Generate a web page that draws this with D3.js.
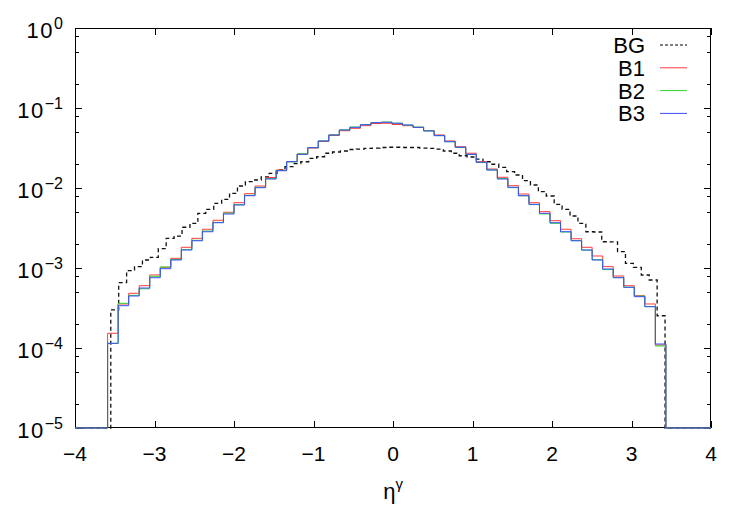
<!DOCTYPE html>
<html>
<head>
<meta charset="utf-8">
<script src="https://cdn.jsdelivr.net/npm/d3@7/dist/d3.min.js"></script>
<style>
  html, body { margin: 0; padding: 0; background: #fff; }
  text { font-family: "Liberation Sans", Arial, Helvetica, sans-serif; fill: #000; }
</style>
</head>
<body>
<svg id="chart" width="750" height="525"></svg>
<script>
// ---------------- data ----------------
const seriesNames = ["BG", "B1", "B2", "B3"];
const seriesColors = ["#000000", "#ff3b3b", "#2ed62e", "#3a4bff"];

// signal histograms (B1, B2, B3): 53 bins starting at eta = -3.59, width 0.1325
const bStart = -3.59;
const bWidth = 0.1325;
const b1 = [1.528e-4, 3.55e-4, 4.83e-4, 6.01e-4, 8.18e-4, 1.02e-3, 1.321e-3, 1.815e-3, 2.35e-3, 3.05e-3,
            3.95e-3, 4.97e-3, 6.55e-3, 8.49e-3, 1.059e-2, 1.352e-2, 1.679e-2, 2.14e-2, 2.64e-2, 3.16e-2,
            3.81e-2, 4.53e-2, 5.20e-2, 5.57e-2, 6.01e-2, 6.40e-2, 6.44e-2, 6.22e-2, 6.01e-2, 5.71e-2,
            5.23e-2, 4.60e-2, 3.87e-2, 3.28e-2, 2.72e-2, 2.13e-2, 1.728e-2, 1.361e-2, 1.069e-2, 8.41e-3,
            6.55e-3, 5.06e-3, 3.90e-3, 3.05e-3, 2.32e-3, 1.815e-3, 1.413e-3, 1.04e-3, 7.94e-4, 6.01e-4,
            4.51e-4, 3.55e-4, 1.09e-4];
const b2 = [1.14e-4, 3.62e-4, 4.55e-4, 5.5e-4, 7.87e-4, 1.03e-3, 1.28e-3, 1.70e-3, 2.22e-3, 2.90e-3,
            3.72e-3, 4.85e-3, 6.2e-3, 8.1e-3, 1.02e-2, 1.31e-2, 1.66e-2, 2.12e-2, 2.68e-2, 3.2e-2,
            3.88e-2, 4.62e-2, 5.33e-2, 5.78e-2, 6.2e-2, 6.58e-2, 6.68e-2, 6.46e-2, 6.12e-2, 5.78e-2,
            5.18e-2, 4.52e-2, 3.8e-2, 3.22e-2, 2.62e-2, 2.08e-2, 1.68e-2, 1.31e-2, 1.01e-2, 8.0e-3,
            6.2e-3, 4.75e-3, 3.62e-3, 2.82e-3, 2.2e-3, 1.67e-3, 1.27e-3, 9.55e-4, 7.6e-4, 5.75e-4,
            4.45e-4, 3.3e-4, 1.06e-4];
const b3 = [1.145e-4, 3.38e-4, 4.47e-4, 5.62e-4, 7.56e-4, 9.80e-4, 1.259e-3, 1.679e-3, 2.19e-3, 2.84e-3,
            3.68e-3, 4.73e-3, 6.13e-3, 8.01e-3, 1.009e-2, 1.296e-2, 1.644e-2, 2.13e-2, 2.64e-2, 3.19e-2,
            3.87e-2, 4.60e-2, 5.31e-2, 5.74e-2, 6.18e-2, 6.55e-2, 6.63e-2, 6.44e-2, 6.13e-2, 5.74e-2,
            5.16e-2, 4.51e-2, 3.79e-2, 3.23e-2, 2.64e-2, 2.10e-2, 1.679e-2, 1.296e-2, 1.021e-2, 8.01e-3,
            6.25e-3, 4.83e-3, 3.68e-3, 2.84e-3, 2.19e-3, 1.679e-3, 1.259e-3, 9.72e-4, 7.56e-4, 5.74e-4,
            4.38e-4, 3.28e-4, 1.122e-4];

// background histogram: 70 bins starting at eta = -3.55, width 0.0996
const bgStart = -3.55;
const bgWidth = 0.0996;
const bg = [2.99e-4, 6.55e-4, 9.25e-4, 1.038e-3, 1.259e-3, 1.361e-3, 1.742e-3, 2.35e-3, 2.51e-3, 3.23e-3,
            3.62e-3, 4.83e-3, 5.42e-3, 6.44e-3, 7.22e-3, 8.59e-3, 1.059e-2, 1.199e-2, 1.259e-2, 1.372e-2,
            1.527e-2, 1.679e-2, 1.846e-2, 2.02e-2, 2.13e-2, 2.34e-2, 2.46e-2, 2.72e-2, 2.82e-2, 2.90e-2,
            3.03e-2, 3.07e-2, 3.13e-2, 3.16e-2, 3.21e-2, 3.23e-2, 3.23e-2, 3.21e-2, 3.21e-2, 3.16e-2,
            3.13e-2, 3.07e-2, 2.90e-2, 2.72e-2, 2.53e-2, 2.44e-2, 2.30e-2, 2.13e-2, 1.98e-2, 1.815e-2,
            1.60e-2, 1.454e-2, 1.234e-2, 1.09e-2, 8.99e-3, 7.94e-3, 6.25e-3, 5.42e-3, 4.47e-3, 3.62e-3,
            2.84e-3, 2.82e-3, 2.13e-3, 2.12e-3, 1.60e-3, 1.145e-3, 1.02e-3, 8.18e-4, 7.08e-4, 2.53e-4];

const xTicks = [-4, -3, -2, -1, 0, 1, 2, 3, 4];
const yExponents = [0, -1, -2, -3, -4, -5];
const yMinorFactors = [0.8, 0.5, 0.2];

// ---------------- layout ----------------
const L = 75, R = 711, T = 28, B = 428;
const svg = d3.select("#chart");
const x = d3.scaleLinear().domain([-4, 4]).range([L, R]);
const y = d3.scaleLog().domain([1e-5, 1]).range([B, T]);
const yMin = 1e-5;

// clip
svg.append("defs").append("clipPath").attr("id", "clip")
  .append("rect").attr("x", L).attr("y", T - 1).attr("width", R - L).attr("height", B - T + 2);

// frame
svg.append("rect").attr("x", L + 0.5).attr("y", T + 0.5).attr("width", R - L - 1).attr("height", B - T - 1)
  .attr("fill", "none").attr("stroke", "#000").attr("stroke-width", 1);

// ticks
const tickG = svg.append("g").attr("stroke", "#000").attr("stroke-width", 1);
xTicks.forEach(t => {
  const px = Math.round(x(t)) + 0.5;
  tickG.append("line").attr("x1", px).attr("x2", px).attr("y1", B).attr("y2", B - 7);
  tickG.append("line").attr("x1", px).attr("x2", px).attr("y1", T).attr("y2", T + 7);
});
yExponents.forEach(e => {
  const py = Math.round(y(Math.pow(10, e))) + 0.5;
  tickG.append("line").attr("x1", L).attr("x2", L + 7).attr("y1", py).attr("y2", py);
  tickG.append("line").attr("x1", R).attr("x2", R - 7).attr("y1", py).attr("y2", py);
  if (e > -5) {
    yMinorFactors.forEach(f => {
      const my = Math.round(y(f * Math.pow(10, e))) + 0.5;
      tickG.append("line").attr("x1", L).attr("x2", L + 4).attr("y1", my).attr("y2", my);
      tickG.append("line").attr("x1", R).attr("x2", R - 4).attr("y1", my).attr("y2", my);
    });
  }
});

// tick labels
const minus = s => String(s).replace("-", "\u2212");
xTicks.forEach(t => {
  svg.append("text").attr("x", x(t)).attr("y", 461).attr("text-anchor", "middle")
    .attr("font-size", 21).text(minus(t));
});
yExponents.forEach(e => {
  const py = y(Math.pow(10, e));
  const tx = svg.append("text").attr("x", 63).attr("y", py + 10).attr("text-anchor", "end").attr("font-size", 22);
  tx.append("tspan").attr("letter-spacing", 1.5).text("10");
  tx.append("tspan").attr("font-size", 16).attr("dy", -9).text(minus(e));
});

// axis title
const xt = svg.append("text").attr("x", 393).attr("y", 499).attr("text-anchor", "middle").attr("font-size", 22);
xt.append("tspan").text("\u03b7");
xt.append("tspan").attr("font-size", 15).attr("dy", -10).text("\u03b3");

// ---------------- histograms ----------------
function stepPoints(start, width, vals) {
  const pts = [[-4, yMin], [start, yMin]];
  vals.forEach((v, i) => {
    pts.push([start + i * width, v]);
    pts.push([start + (i + 1) * width, v]);
  });
  pts.push([start + vals.length * width, yMin]);
  pts.push([4, yMin]);
  return pts;
}
const line = d3.line().x(d => x(d[0])).y(d => y(d[1]));
const plotG = svg.append("g").attr("clip-path", "url(#clip)");

const allSeries = [
  { pts: stepPoints(bgStart, bgWidth, bg), color: "#111", dash: "4,3", w: 1.3 },
  { pts: stepPoints(bStart, bWidth, b1), color: seriesColors[1], dash: null, w: 1 },
  { pts: stepPoints(bStart, bWidth, b2), color: seriesColors[2], dash: null, w: 1 },
  { pts: stepPoints(bStart, bWidth, b3), color: seriesColors[3], dash: null, w: 1 }
];
allSeries.forEach(s => {
  plotG.append("path").attr("d", line(s.pts)).attr("fill", "none")
    .attr("stroke", s.color).attr("stroke-width", s.w)
    .attr("stroke-dasharray", s.dash);
});

// ---------------- legend ----------------
seriesNames.forEach((n, i) => {
  const by = 53 + i * 22.8;
  svg.append("text").attr("x", 645).attr("y", by).attr("text-anchor", "end")
    .attr("font-size", 22).text(n);
  svg.append("line").attr("x1", 660).attr("x2", 687).attr("y1", by - 8).attr("y2", by - 8)
    .attr("stroke", seriesColors[i]).attr("stroke-width", i === 0 ? 1.2 : 1)
    .attr("stroke-dasharray", i === 0 ? "3,2" : null);
});
</script>
</body>
</html>
